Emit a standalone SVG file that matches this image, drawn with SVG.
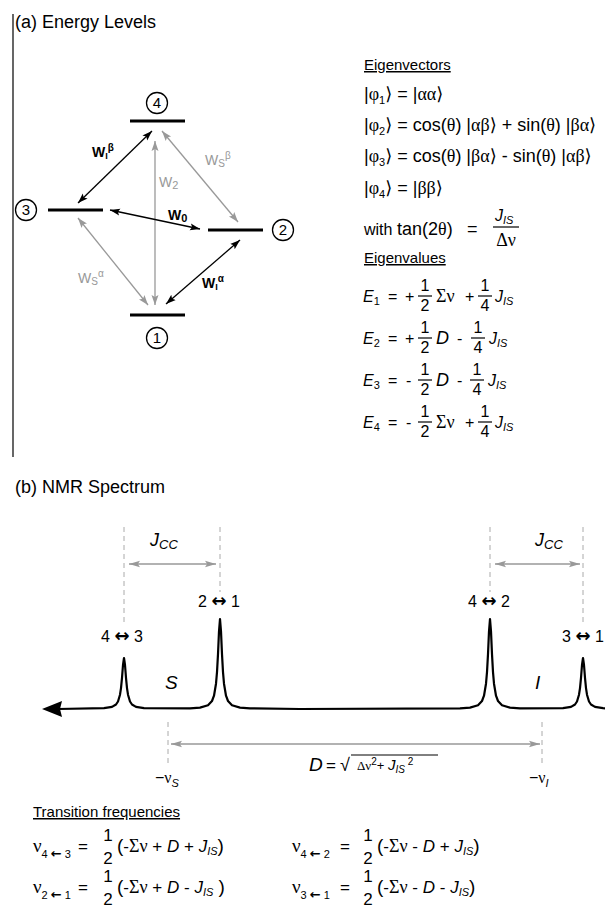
<svg xmlns="http://www.w3.org/2000/svg" width="605" height="908" viewBox="0 0 605 908">
<style>
text{font-family:"Liberation Sans","DejaVu Sans",sans-serif;fill:#000}
.t{font-size:18px}
.h{font-size:15px;text-decoration:underline}
.m{font-size:16px}
.ev{font-size:18px}
.fn{font-size:16px;text-anchor:middle}
.g{font-family:"Liberation Serif","DejaVu Serif",serif}
.i{font-style:italic}
.s{font-size:11px}
.lvl{stroke:#000;stroke-width:3}
.cir{fill:#fff;stroke:#000;stroke-width:1.3}
.num{font-size:15px;text-anchor:middle}
.blk{stroke:#000;stroke-width:1.3;fill:none;marker-start:url(#hb);marker-end:url(#hb)}
.gry{stroke:#999;stroke-width:1.3;fill:none;marker-start:url(#hg);marker-end:url(#hg)}
.wb{font-size:14px;font-weight:bold}
.wg{font-size:14px;fill:#999}
.dash{stroke:#aaa;stroke-width:1;stroke-dasharray:5 4;fill:none}
.frac{stroke:#000;stroke-width:1.2}
.lab{font-size:16px;text-anchor:middle}
.arr{font-family:"DejaVu Sans",sans-serif;font-weight:bold}
.tf{font-size:17px}
.tn{font-size:17px;text-anchor:middle}
</style>
<defs>
<marker id="hb" viewBox="0 0 10 10" refX="10" refY="5" markerWidth="10" markerHeight="10" markerUnits="userSpaceOnUse" orient="auto-start-reverse"><path d="M0,1.5 L10,5 L0,8.5 L2,5 Z" fill="#000"/></marker>
<marker id="hg" viewBox="0 0 10 10" refX="10" refY="5" markerWidth="10" markerHeight="10" markerUnits="userSpaceOnUse" orient="auto-start-reverse"><path d="M0,1.5 L10,5 L0,8.5 L2,5 Z" fill="#999"/></marker>
<marker id="hs" viewBox="0 0 10 10" refX="10" refY="5" markerWidth="11" markerHeight="11" markerUnits="userSpaceOnUse" orient="auto-start-reverse"><path d="M0,2 L10,5 L0,8 L2,5 Z" fill="#999"/></marker>
</defs>

<!-- (a) Energy levels -->
<text class="t" x="15" y="28">(a) Energy Levels</text>
<line x1="13" y1="14" x2="13" y2="457" stroke="#000" stroke-width="1.2"/>

<g id="connectors">
<line class="blk" x1="152" y1="131" x2="78" y2="203"/>
<line class="gry" x1="162" y1="131" x2="238" y2="222"/>
<line class="gry" x1="155" y1="141" x2="155" y2="305"/>
<line class="blk" x1="110" y1="210" x2="200" y2="229"/>
<line class="gry" x1="78" y1="218" x2="148" y2="305"/>
<line class="blk" x1="240" y1="240" x2="166" y2="304"/>
<text class="wb" x="92" y="157">W<tspan font-size="9" dy="2">I</tspan><tspan font-size="10" dy="-8">β</tspan></text>
<text class="wg" x="205" y="165">W<tspan font-size="10" dy="2">S</tspan><tspan font-size="10" dy="-8">β</tspan></text>
<text class="wg" x="159" y="187">W<tspan font-size="11" dy="2">2</tspan></text>
<text class="wb" x="168" y="220">W<tspan font-size="11" dy="2">0</tspan></text>
<text class="wg" x="78" y="283">W<tspan font-size="10" dy="2">S</tspan><tspan font-size="10" dy="-8">α</tspan></text>
<text class="wb" x="202" y="288">W<tspan font-size="9" dy="2">I</tspan><tspan font-size="10" dy="-8">α</tspan></text>
</g>

<g id="level4">
<line class="lvl" x1="130" y1="121" x2="185" y2="121"/>
<circle class="cir" cx="157" cy="103" r="10.5"/>
<text class="num" x="157" y="108">4</text>
</g>
<g id="level3">
<line class="lvl" x1="48" y1="210" x2="103" y2="210"/>
<circle class="cir" cx="26" cy="210" r="10.5"/>
<text class="num" x="26" y="215">3</text>
</g>
<g id="level2">
<line class="lvl" x1="208" y1="230" x2="263" y2="230"/>
<circle class="cir" cx="283" cy="230" r="10.5"/>
<text class="num" x="283" y="235">2</text>
</g>
<g id="level1">
<line class="lvl" x1="130" y1="315" x2="185" y2="315"/>
<circle class="cir" cx="157" cy="338" r="10.5"/>
<text class="num" x="157" y="343">1</text>
</g>

<!-- Eigenvectors -->
<g id="eigenvectors">
<text class="h" x="364" y="70">Eigenvectors</text>
<text class="ev" x="364" y="100">|<tspan class="g">φ</tspan><tspan class="s" dy="4">1</tspan><tspan dy="-4">⟩ = |</tspan><tspan class="g">αα</tspan>⟩</text>
<text class="ev" x="364" y="131">|<tspan class="g">φ</tspan><tspan class="s" dy="4">2</tspan><tspan dy="-4">⟩ = cos(</tspan><tspan class="g">θ</tspan>) |<tspan class="g">αβ</tspan>⟩ + sin(<tspan class="g">θ</tspan>) |<tspan class="g">βα</tspan>⟩</text>
<text class="ev" x="364" y="162">|<tspan class="g">φ</tspan><tspan class="s" dy="4">3</tspan><tspan dy="-4">⟩ = cos(</tspan><tspan class="g">θ</tspan>) |<tspan class="g">βα</tspan>⟩ - sin(<tspan class="g">θ</tspan>) |<tspan class="g">αβ</tspan>⟩</text>
<text class="ev" x="364" y="194">|<tspan class="g">φ</tspan><tspan class="s" dy="4">4</tspan><tspan dy="-4">⟩ = |</tspan><tspan class="g">ββ</tspan>⟩</text>
<text class="m" x="364" y="235">with</text>
<text class="ev" x="397" y="235">tan(2<tspan class="g">θ</tspan>)</text>
<text class="ev" x="467" y="235">=</text>
<text class="m i" x="495" y="221">J<tspan class="s" dy="3">IS</tspan></text>
<line class="frac" x1="493" y1="227" x2="519" y2="227"/>
<text class="ev" x="506" y="246" text-anchor="middle"><tspan class="g">Δν</tspan></text>
</g>

<!-- Eigenvalues -->
<g id="eigenvalues">
<text class="h" x="364" y="263">Eigenvalues</text>
<text class="m i" x="363" y="302">E<tspan class="s" dy="3" font-style="normal">1</tspan></text>
<text class="m" x="388" y="302">=</text>
<text class="m" x="405" y="302">+</text>
<text class="fn" x="425" y="291">1</text><line class="frac" x1="418" y1="296" x2="432" y2="296"/><text class="fn" x="425" y="311">2</text>
<text class="ev g" x="436" y="302">Σν</text>
<text class="m" x="465" y="302">+</text>
<text class="fn" x="485" y="291">1</text><line class="frac" x1="478" y1="296" x2="492" y2="296"/><text class="fn" x="485" y="311">4</text>
<text class="m i" x="495" y="302">J<tspan class="s" dy="3">IS</tspan></text>

<text class="m i" x="363" y="344">E<tspan class="s" dy="3" font-style="normal">2</tspan></text>
<text class="m" x="388" y="344">=</text>
<text class="m" x="405" y="344">+</text>
<text class="fn" x="425" y="333">1</text><line class="frac" x1="418" y1="338" x2="432" y2="338"/><text class="fn" x="425" y="353">2</text>
<text class="ev i" x="436" y="344">D</text>
<text class="m" x="457" y="344">-</text>
<text class="fn" x="478" y="333">1</text><line class="frac" x1="471" y1="338" x2="485" y2="338"/><text class="fn" x="478" y="353">4</text>
<text class="m i" x="489" y="344">J<tspan class="s" dy="3">IS</tspan></text>

<text class="m i" x="363" y="386">E<tspan class="s" dy="3" font-style="normal">3</tspan></text>
<text class="m" x="388" y="386">=</text>
<text class="m" x="406" y="386">-</text>
<text class="fn" x="425" y="375">1</text><line class="frac" x1="418" y1="380" x2="432" y2="380"/><text class="fn" x="425" y="395">2</text>
<text class="ev i" x="436" y="386">D</text>
<text class="m" x="457" y="386">-</text>
<text class="fn" x="477" y="375">1</text><line class="frac" x1="470" y1="380" x2="484" y2="380"/><text class="fn" x="477" y="395">4</text>
<text class="m i" x="488" y="386">J<tspan class="s" dy="3">IS</tspan></text>

<text class="m i" x="363" y="428">E<tspan class="s" dy="3" font-style="normal">4</tspan></text>
<text class="m" x="388" y="428">=</text>
<text class="m" x="406" y="428">-</text>
<text class="fn" x="425" y="417">1</text><line class="frac" x1="418" y1="422" x2="432" y2="422"/><text class="fn" x="425" y="437">2</text>
<text class="ev g" x="436" y="428">Σν</text>
<text class="m" x="465" y="428">+</text>
<text class="fn" x="485" y="417">1</text><line class="frac" x1="478" y1="422" x2="492" y2="422"/><text class="fn" x="485" y="437">4</text>
<text class="m i" x="495" y="428">J<tspan class="s" dy="3">IS</tspan></text>
</g>

<!-- (b) NMR spectrum -->
<text class="t" x="15" y="493">(b) NMR Spectrum</text>

<g id="spectrum-guides">
<line class="dash" x1="124" y1="527" x2="124" y2="625"/>
<line class="dash" x1="220" y1="527" x2="220" y2="592"/>
<line class="dash" x1="490" y1="527" x2="490" y2="592"/>
<line class="dash" x1="583" y1="527" x2="583" y2="625"/>
<line class="dash" x1="168" y1="722" x2="168" y2="765"/>
<line class="dash" x1="542" y1="722" x2="542" y2="765"/>
<line x1="129" y1="564" x2="216" y2="564" stroke="#999" stroke-width="1.5" marker-start="url(#hs)" marker-end="url(#hs)"/>
<line x1="495" y1="564" x2="580" y2="564" stroke="#999" stroke-width="1.5" marker-start="url(#hs)" marker-end="url(#hs)"/>
<line x1="171" y1="744" x2="540" y2="744" stroke="#999" stroke-width="1.5" marker-start="url(#hs)" marker-end="url(#hs)"/>
<text class="i" x="150" y="546" font-size="18">J<tspan font-size="13" dy="3">CC</tspan></text>
<text class="i" x="535" y="546" font-size="18">J<tspan font-size="13" dy="3">CC</tspan></text>
</g>

<g id="spectrum">
<path d="M42,709 L62,701 L60,709 L62,717 Z" fill="#000"/>
<path fill="none" stroke="#000" stroke-width="2.2" stroke-linejoin="round" d="M58,709 L104,708.2 L112,706.9 L116,704.5 L118,701.5 L120,694.7 L121,688.1 L122,677.9 L123,665 L124,658 L125,665 L126,677.9 L127,688.1 L128,694.7 L130,701.5 L132,704.5 L136,706.9 L144,708.2 L190,708.4 L200,707.6 L208,705.3 L212,701 L214,695.7 L216,683.7 L217,672.1 L218,654.1 L219,631.4 L220,619 L221,631.4 L222,654.1 L223,672.1 L224,683.7 L226,695.7 L228,701 L232,705.3 L240,707.6 L250,708.4 L300,709 L460,708.4 L470,707.6 L478,705.3 L482,701 L484,695.7 L486,683.7 L487,672.1 L488,654.1 L489,631.4 L490,619 L491,631.4 L492,654.1 L493,672.1 L494,683.7 L496,695.7 L498,701 L502,705.3 L510,707.6 L520,708.4 L563,708.2 L571,706.9 L575,704.5 L577,701.5 L579,694.7 L580,688.1 L581,677.9 L582,665 L583,658 L584,665 L585,677.9 L586,688.1 L587,694.7 L589,701.5 L591,704.5 L595,706.9 L603,708.2 L606,708.4"/>
<text class="lab" x="219" y="607">2 <tspan class="arr" font-size="18">↔</tspan> 1</text>
<text class="lab" x="489" y="607">4 <tspan class="arr" font-size="18">↔</tspan> 2</text>
<text class="lab" x="122" y="642">4 <tspan class="arr" font-size="18">↔</tspan> 3</text>
<text class="lab" x="583" y="642">3 <tspan class="arr" font-size="18">↔</tspan> 1</text>
<text class="i" x="165" y="689" font-size="19">S</text>
<text class="i" x="535" y="689" font-size="19">I</text>
<text x="155" y="783" font-size="16">−<tspan class="g">ν</tspan><tspan class="i" font-size="11" dy="4">S</tspan></text>
<text x="529" y="783" font-size="16">−<tspan class="g">ν</tspan><tspan class="i" font-size="11" dy="4">I</tspan></text>
<text class="i" x="309" y="771" font-size="19">D</text>
<text x="326" y="771" font-size="17">=</text>
<text x="340" y="771" font-size="18">√</text>
<line x1="351" y1="755" x2="438" y2="755" stroke="#000" stroke-width="1"/>
<text x="357" y="770" font-size="13"><tspan class="g">Δν</tspan><tspan font-size="10" dy="-5">2</tspan><tspan dy="5">+ </tspan><tspan class="i" font-size="15">J</tspan><tspan class="i" font-size="10" dy="3">IS</tspan><tspan font-size="10" dy="-8"> 2</tspan></text>
</g>

<!-- Transition frequencies -->
<g id="transitions">
<text class="h" x="33" y="817">Transition frequencies</text>
<text class="tf" x="33" y="852"><tspan class="g" font-size="19">ν</tspan><tspan font-size="11" dy="6">4 <tspan class="arr" font-size="13">←</tspan> 3</tspan></text>
<text class="tf" x="78" y="852">=</text>
<text class="tn" x="108" y="841">1</text><text class="tn" x="108" y="864">2</text>
<text class="tf" x="117" y="852"><tspan font-size="19">(</tspan>-<tspan class="g" font-size="18">Σν</tspan> + <tspan class="i">D</tspan> + <tspan class="i">J</tspan><tspan class="i s" dy="3">IS</tspan><tspan font-size="19" dy="-3">)</tspan></text>

<text class="tf" x="292" y="852"><tspan class="g" font-size="19">ν</tspan><tspan font-size="11" dy="6">4 <tspan class="arr" font-size="13">←</tspan> 2</tspan></text>
<text class="tf" x="340" y="852">=</text>
<text class="tn" x="368" y="841">1</text><text class="tn" x="368" y="864">2</text>
<text class="tf" x="377" y="852"><tspan font-size="19">(</tspan>-<tspan class="g" font-size="18">Σν</tspan> - <tspan class="i">D</tspan>  + <tspan class="i">J</tspan><tspan class="i s" dy="3">IS</tspan><tspan font-size="19" dy="-3">)</tspan></text>

<text class="tf" x="33" y="893"><tspan class="g" font-size="19">ν</tspan><tspan font-size="11" dy="6">2 <tspan class="arr" font-size="13">←</tspan> 1</tspan></text>
<text class="tf" x="78" y="893">=</text>
<text class="tn" x="108" y="882">1</text><text class="tn" x="108" y="905">2</text>
<text class="tf" x="117" y="893"><tspan font-size="19">(</tspan>-<tspan class="g" font-size="18">Σν</tspan> + <tspan class="i">D</tspan> - <tspan class="i">J</tspan><tspan class="i s" dy="3">IS</tspan><tspan font-size="19" dy="-3"> )</tspan></text>

<text class="tf" x="292" y="893"><tspan class="g" font-size="19">ν</tspan><tspan font-size="11" dy="6">3 <tspan class="arr" font-size="13">←</tspan> 1</tspan></text>
<text class="tf" x="340" y="893">=</text>
<text class="tn" x="368" y="882">1</text><text class="tn" x="368" y="905">2</text>
<text class="tf" x="377" y="893"><tspan font-size="19">(</tspan>-<tspan class="g" font-size="18">Σν</tspan> - <tspan class="i">D</tspan>  -  <tspan class="i">J</tspan><tspan class="i s" dy="3">IS</tspan><tspan font-size="19" dy="-3">)</tspan></text>
</g>
</svg>
